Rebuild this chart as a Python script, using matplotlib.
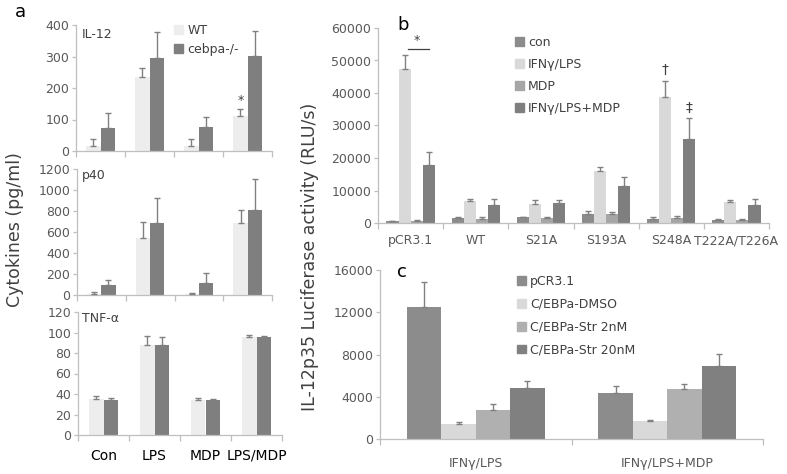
import matplotlib
matplotlib.use('Agg')
import matplotlib.pyplot as plt
import numpy as np
from matplotlib.patches import Patch

W, H = 787, 474
plt.rcParams['font.family'] = ['DejaVu Sans']

# ---------------- data ----------------
# Panel a
a_cats = ['Con', 'LPS', 'MDP', 'LPS/MDP']
a_series = ['WT', 'cebpa-/-']
il12_wt = [16, 234, 15, 110]
il12_wt_top = [39, 264, 39, 133]
il12_ko = [73, 295, 75, 301]
il12_ko_top = [121, 379, 107, 382]
p40_wt = [8, 545, 6, 684]
p40_wt_top = [25, 693, 19, 814]
p40_ko = [92, 684, 114, 807]
p40_ko_top = [139, 928, 206, 1108]
tnf_wt = [34.8, 87.7, 34.5, 95.8]
tnf_wt_top = [37.7, 96.8, 36.1, 97.4]
tnf_ko = [33.9, 87.7, 33.9, 95.2]
tnf_ko_top = [36.1, 95.8, 35.2, 96.5]

# Panel b
b_cats = ['pCR3.1', 'WT', 'S21A', 'S193A', 'S248A', 'T222A/T226A']
b_series = ['con', 'IFNγ/LPS', 'MDP', 'IFNγ/LPS+MDP']
b_con = [500, 1450, 1700, 2700, 1330, 920]
b_con_top = [700, 1750, 1900, 3700, 1850, 1130]
b_ifn = [47500, 6800, 6000, 15900, 38700, 6500]
b_ifn_top = [51800, 7500, 7000, 17150, 43800, 7000]
b_mdp = [700, 1350, 1400, 2700, 1650, 920]
b_mdp_top = [900, 1950, 1900, 3400, 2150, 1130]
b_both = [17750, 5450, 6200, 11300, 26000, 5450]
b_both_top = [21900, 7500, 7200, 14300, 32400, 7500]

# Panel c
c_cats = ['IFNγ/LPS', 'IFNγ/LPS+MDP']
c_series = ['pCR3.1', 'C/EBPa-DMSO', 'C/EBPa-Str 2nM', 'C/EBPa-Str 20nM']
c_pcr = [12530, 4390]
c_pcr_top = [14900, 5050]
c_dmso = [1450, 1700]
c_dmso_top = [1610, 1800]
c_str2 = [2745, 4730]
c_str2_top = [3345, 5210]
c_str20 = [4800, 6940]
c_str20_top = [5460, 8015]

# ---------------- style ----------------
SP = '#bfbfbf'
TXT = '#595959'
ERR = '#808080'
a_colors = ['#ededed', '#7f7f7f']
b_colors = ['#8c8c8c', '#d9d9d9', '#a6a6a6', '#7f7f7f']
c_colors = ['#8c8c8c', '#d9d9d9', '#b0b0b0', '#808080']

fig = plt.figure(figsize=(W / 100, H / 100), dpi=100)


def px_axes(l, t, r, b):
    return fig.add_axes([l / W, 1 - b / H, (r - l) / W, (b - t) / H])


def style(ax, ncat, ylim, yticks, xlabels, pad, xkw):
    ax.set_xlim(-0.5, ncat - 0.5)
    ax.set_ylim(*ylim)
    ax.set_yticks(yticks)
    for s in ['top', 'right']:
        ax.spines[s].set_visible(False)
    for s in ['left', 'bottom']:
        ax.spines[s].set_color(SP)
        ax.spines[s].set_linewidth(0.9)
    ax.set_xticks(range(ncat))
    ax.set_xticklabels(xlabels, **xkw)
    ax.set_xticks(np.arange(-0.5, ncat, 1), minor=True)
    ax.tick_params(axis='x', which='major', length=0, pad=pad)
    ax.tick_params(axis='x', which='minor', length=4, color=SP, width=0.9)
    ax.tick_params(axis='y', length=3, color=SP, width=0.9, labelsize=9,
                   labelcolor=TXT, pad=2)


def bars(ax, vals, tops, colors, width):
    n = len(vals)
    x = np.arange(len(vals[0]))
    pos = []
    for i in range(n):
        xi = x + (i - (n - 1) / 2) * width
        v = np.array(vals[i], float)
        t = np.array(tops[i], float)
        ax.bar(xi, v, width=width, color=colors[i], edgecolor='none', zorder=2)
        ax.errorbar(xi, v, yerr=[np.zeros_like(v), t - v], fmt='none',
                    ecolor=ERR, elinewidth=1, capsize=2.5, capthick=1, zorder=3)
        pos.append(xi)
    return pos


# ---------------- panel a ----------------
axa1 = px_axes(76, 25, 272, 151)
axa2 = px_axes(77, 169, 272, 295)
axa3 = px_axes(78, 312, 282, 435)
aw = 0.29
pa1 = bars(axa1, [il12_wt, il12_ko], [il12_wt_top, il12_ko_top], a_colors, aw)
bars(axa2, [p40_wt, p40_ko], [p40_wt_top, p40_ko_top], a_colors, aw)
bars(axa3, [tnf_wt, tnf_ko], [tnf_wt_top, tnf_ko_top], a_colors, aw)
style(axa1, 4, (0, 400), range(0, 401, 100), [''] * 4, 2, {})
style(axa2, 4, (0, 1200), range(0, 1201, 200), [''] * 4, 2, {})
style(axa3, 4, (0, 120), range(0, 121, 20), a_cats, 10,
      dict(fontsize=10, color='black'))

axa1.text(pa1[0][3], il12_wt_top[3] + 8, '*', ha='center', va='bottom',
          fontsize=9, color='#404040')

fig.text(82 / W, 1 - 34 / H, 'IL-12', fontsize=9, color='#404040', va='center')
fig.text(82 / W, 1 - 175 / H, 'p40', fontsize=9, color='#404040', va='center')
fig.text(82 / W, 1 - 318 / H, 'TNF-α', fontsize=9, color='#404040', va='center')
fig.text(20 / W, 1 - 12 / H, 'a', fontsize=13, color='black', va='center', ha='center')
fig.text(15 / W, 1 - 230 / H, 'Cytokines (pg/ml)', fontsize=12.5, color='#404040',
         rotation=90, va='center', ha='center')

fig.legend(handles=[Patch(color=c) for c in a_colors], labels=a_series,
           loc='upper left', bbox_to_anchor=(174 / W, 1 - 24 / H), frameon=False,
           fontsize=9, labelcolor='#404040', handlelength=0.7, handleheight=0.7,
           handletextpad=0.4, labelspacing=0.45, borderpad=0, borderaxespad=0)

# ---------------- panel b ----------------
axb = px_axes(378, 28, 769, 223)
bw = 0.185
pb = bars(axb, [b_con, b_ifn, b_mdp, b_both],
          [b_con_top, b_ifn_top, b_mdp_top, b_both_top], b_colors, bw)
style(axb, 6, (0, 60000), range(0, 60001, 10000), b_cats, 8,
      dict(fontsize=9, color=TXT))
# significance marks
sig_y = 53500
axb.plot([pb[1][0] + 0.05, pb[3][0]], [sig_y, sig_y], color='#404040', lw=0.9)
axb.text((pb[1][0] + pb[3][0]) / 2, sig_y + 600, '*', ha='center', va='bottom',
         fontsize=9, color='#404040')
axb.text(pb[1][4], b_ifn_top[4] + 1200, '†', ha='center', va='bottom',
         fontsize=10, color='#404040')
axb.text(pb[3][4], b_both_top[4] + 900, '‡', ha='center', va='bottom',
         fontsize=10, color='#404040')
fig.text(403 / W, 1 - 25 / H, 'b', fontsize=13, color='black', va='center', ha='center')

fig.legend(handles=[Patch(color=c) for c in b_colors], labels=b_series,
           loc='upper left', bbox_to_anchor=(515 / W, 1 - 36 / H), frameon=False,
           fontsize=9, labelcolor='#404040', handlelength=0.7, handleheight=0.7,
           handletextpad=0.35, labelspacing=0.72, borderpad=0, borderaxespad=0)

# ---------------- panel c ----------------
axc = px_axes(380, 270, 763, 439)
cw = 0.18
bars(axc, [c_pcr, c_dmso, c_str2, c_str20],
     [c_pcr_top, c_dmso_top, c_str2_top, c_str20_top], c_colors, cw)
style(axc, 2, (0, 16000), range(0, 16001, 4000), c_cats, 13,
      dict(fontsize=9, color=TXT))
fig.text(402 / W, 1 - 272 / H, 'c', fontsize=13, color='black', va='center', ha='center')

fig.legend(handles=[Patch(color=c) for c in c_colors], labels=c_series,
           loc='upper left', bbox_to_anchor=(517 / W, 1 - 275 / H), frameon=False,
           fontsize=9, labelcolor='#404040', handlelength=0.7, handleheight=0.7,
           handletextpad=0.35, labelspacing=0.78, borderpad=0, borderaxespad=0)

fig.text(310 / W, 1 - 257 / H, 'IL-12p35 Luciferase activity (RLU/s)', fontsize=12.5,
         color='#404040', rotation=90, va='center', ha='center')

fig.savefig('out.png', dpi=100)
